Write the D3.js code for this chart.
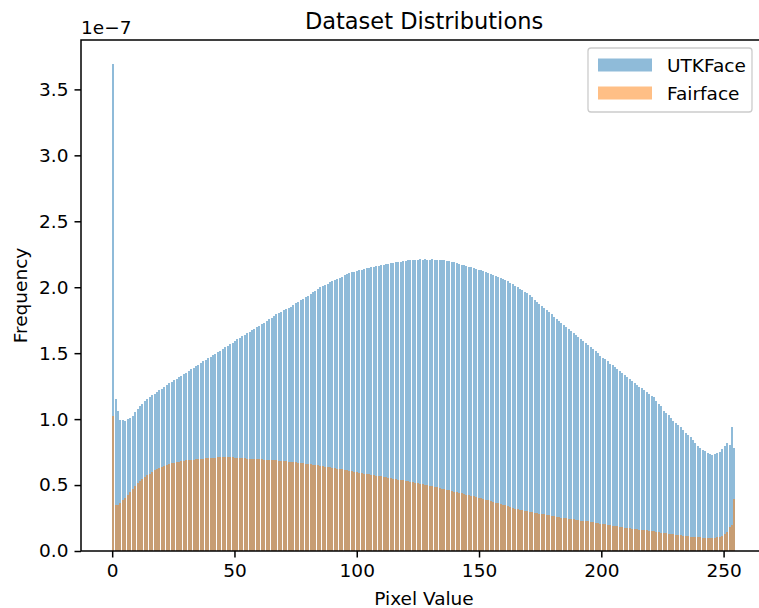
<!DOCTYPE html>
<html>
<head>
<meta charset="utf-8">
<script src="https://cdn.jsdelivr.net/npm/d3@7"></script>
<style>
  html, body { margin: 0; padding: 0; background: #ffffff; }
  svg { display: block; font-family: "DejaVu Sans", sans-serif; }
</style>
</head>
<body>
<svg id="chart" width="759" height="608"></svg>
<script>
// ---- data (units of 1e-7) ----
const seriesNames = ["UTKFace", "Fairface"];
const binCount = 256;
const binRange = [0, 255];
const xTicks = [0, 50, 100, 150, 200, 250];
const yTicks = [0.0, 0.5, 1.0, 1.5, 2.0, 2.5, 3.0, 3.5];
const yTickLabels = ["0.0", "0.5", "1.0", "1.5", "2.0", "2.5", "3.0", "3.5"];

const utkface = [
3.69,1.154,1.063,0.995,0.995,0.987,1.002,1.012,1.025,1.055,
1.078,1.10,1.118,1.134,1.149,1.164,1.18,1.193,1.205,1.22,
1.232,1.246,1.258,1.272,1.284,1.298,1.305,1.318,1.33,1.34,
1.353,1.365,1.378,1.39,1.40,1.413,1.425,1.438,1.45,1.463,
1.472,1.485,1.497,1.51,1.52,1.532,1.545,1.556,1.568,1.58,
1.592,1.604,1.615,1.627,1.638,1.65,1.662,1.672,1.685,1.697,
1.708,1.72,1.732,1.745,1.758,1.77,1.784,1.795,1.805,1.815,
1.826,1.838,1.846,1.853,1.866,1.878,1.89,1.902,1.913,1.925,
1.937,1.95,1.962,1.975,1.988,2.0,2.01,2.018,2.027,2.037,
2.045,2.055,2.064,2.072,2.08,2.09,2.097,2.105,2.112,2.118,
2.123,2.128,2.133,2.137,2.142,2.146,2.151,2.155,2.16,2.163,
2.167,2.171,2.174,2.177,2.181,2.184,2.188,2.191,2.195,2.198,
2.202,2.205,2.208,2.21,2.208,2.21,2.212,2.21,2.211,2.21,
2.21,2.211,2.21,2.209,2.21,2.208,2.203,2.199,2.197,2.193,
2.19,2.186,2.178,2.172,2.168,2.16,2.154,2.15,2.145,2.14,
2.133,2.127,2.12,2.113,2.106,2.098,2.092,2.085,2.077,2.07,
2.063,2.053,2.044,2.034,2.023,2.012,2.0,1.99,1.977,1.965,
1.953,1.94,1.923,1.906,1.89,1.874,1.858,1.842,1.826,1.81,
1.795,1.778,1.762,1.747,1.731,1.715,1.7,1.686,1.67,1.654,
1.64,1.625,1.61,1.594,1.58,1.565,1.55,1.535,1.52,1.5,
1.481,1.466,1.452,1.437,1.421,1.407,1.393,1.378,1.362,1.348,
1.333,1.318,1.303,1.288,1.273,1.26,1.247,1.233,1.218,1.204,
1.19,1.178,1.165,1.134,1.116,1.096,1.063,1.045,1.033,1.007,
0.987,0.969,0.957,0.939,0.919,0.896,0.881,0.863,0.843,0.82,
0.797,0.78,0.767,0.759,0.744,0.737,0.729,0.737,0.746,0.754,
0.774,0.797,0.82,0.805,0.942,0.782
];

const fairface = [
1.02,0.349,0.349,0.362,0.387,0.405,0.425,0.45,0.471,0.494,
0.514,0.532,0.547,0.562,0.575,0.587,0.6,0.613,0.623,0.633,
0.64,0.648,0.655,0.661,0.666,0.67,0.673,0.677,0.681,0.685,
0.689,0.69,0.692,0.693,0.695,0.697,0.699,0.7,0.702,0.704,
0.706,0.707,0.708,0.709,0.709,0.71,0.71,0.709,0.709,0.709,
0.708,0.708,0.707,0.705,0.703,0.7,0.699,0.698,0.697,0.696,
0.695,0.694,0.693,0.692,0.691,0.69,0.689,0.687,0.685,0.683,
0.682,0.68,0.678,0.676,0.674,0.672,0.67,0.668,0.665,0.663,
0.66,0.657,0.654,0.651,0.649,0.646,0.643,0.64,0.637,0.634,
0.631,0.628,0.625,0.623,0.62,0.616,0.612,0.609,0.605,0.601,
0.597,0.593,0.59,0.587,0.584,0.581,0.578,0.575,0.572,0.568,
0.565,0.561,0.558,0.555,0.551,0.548,0.545,0.541,0.538,0.535,
0.531,0.528,0.524,0.52,0.517,0.514,0.51,0.506,0.502,0.498,
0.494,0.49,0.486,0.482,0.477,0.473,0.469,0.465,0.46,0.456,
0.451,0.447,0.442,0.438,0.433,0.428,0.424,0.419,0.414,0.41,
0.405,0.4,0.395,0.39,0.385,0.379,0.373,0.367,0.362,0.356,
0.351,0.345,0.339,0.333,0.328,0.322,0.316,0.313,0.309,0.305,
0.301,0.298,0.294,0.29,0.287,0.284,0.28,0.277,0.273,0.27,
0.266,0.263,0.26,0.257,0.254,0.251,0.248,0.245,0.242,0.239,
0.236,0.234,0.231,0.229,0.227,0.224,0.221,0.218,0.215,0.212,
0.208,0.205,0.202,0.199,0.196,0.192,0.189,0.186,0.183,0.18,
0.178,0.175,0.172,0.17,0.167,0.165,0.162,0.16,0.158,0.156,
0.154,0.152,0.149,0.146,0.143,0.14,0.137,0.134,0.131,0.128,
0.126,0.123,0.121,0.118,0.116,0.113,0.111,0.109,0.107,0.106,
0.104,0.103,0.102,0.101,0.101,0.1,0.101,0.102,0.104,0.108,
0.115,0.13,0.146,0.18,0.195,0.397
];

const seriesColors = ["#1f77b4", "#ff7f0e"];

// ---- layout ----
const svg = d3.select("#chart");
const plot = { left: 81, top: 40, right: 767, bottom: 551 };
const fs = 18.5;

const binW = (binRange[1] - binRange[0]) / binCount;
const xPad = (binRange[1] - binRange[0]) * 0.05;
const x = d3.scaleLinear().domain([binRange[0] - xPad, binRange[1] + xPad]).range([plot.left, plot.right]);
const yMax = d3.max(utkface.concat(fairface)) * 1.05;
const y = d3.scaleLinear().domain([0, yMax]).range([plot.bottom, plot.top]);

svg.append("rect").attr("x", 0).attr("y", 0).attr("width", 759).attr("height", 608).attr("fill", "#fff");

svg.append("defs").append("clipPath").attr("id", "clip")
  .append("rect").attr("x", plot.left).attr("y", plot.top)
  .attr("width", plot.right - plot.left).attr("height", plot.bottom - plot.top);

const barsG = svg.append("g").attr("clip-path", "url(#clip)");
[utkface, fairface].forEach((vals, si) => {
  barsG.append("g")
    .attr("fill", seriesColors[si])
    .attr("fill-opacity", 0.5)
    .attr("shape-rendering", "crispEdges")
    .selectAll("rect").data(vals).join("rect")
    .attr("x", (d, i) => Math.round(x(binRange[0] + i * binW)))
    .attr("width", (d, i) => Math.max(1, Math.round(x(binRange[0] + (i + 1) * binW) - x(binRange[0] + i * binW) - 0.45)))
    .attr("y", d => y(d))
    .attr("height", d => y(0) - y(d));
});

// axes
const xAxis = d3.axisBottom(x).tickValues(xTicks).tickFormat(d3.format("d")).tickSize(6.5).tickPadding(6);
const gx = svg.append("g").attr("transform", `translate(0,${plot.bottom})`).call(xAxis);
gx.select(".domain").remove();
gx.selectAll(".tick line").attr("stroke", "#000").attr("stroke-width", 1.5);
gx.selectAll(".tick text").attr("font-size", fs).attr("font-family", "DejaVu Sans").attr("fill", "#000");

const yAxis = d3.axisLeft(y).tickValues(yTicks).tickFormat((d, i) => yTickLabels[i]).tickSize(6.5).tickPadding(6);
const gy = svg.append("g").attr("transform", `translate(${plot.left},0)`).call(yAxis);
gy.select(".domain").remove();
gy.selectAll(".tick line").attr("stroke", "#000").attr("stroke-width", 1.5);
gy.selectAll(".tick text").attr("font-size", fs).attr("font-family", "DejaVu Sans").attr("fill", "#000");

// spines
svg.append("rect")
  .attr("x", plot.left).attr("y", plot.top)
  .attr("width", plot.right - plot.left).attr("height", plot.bottom - plot.top)
  .attr("fill", "none").attr("stroke", "#000").attr("stroke-width", 1.5);

// texts
svg.append("text").attr("x", (plot.left + plot.right) / 2).attr("y", 29)
  .attr("text-anchor", "middle").attr("font-size", 22.5).text("Dataset Distributions");
svg.append("text").attr("x", plot.left).attr("y", 34)
  .attr("font-size", fs).text("1e\u22127");
svg.append("text").attr("x", (plot.left + plot.right) / 2).attr("y", 605)
  .attr("text-anchor", "middle").attr("font-size", fs).text("Pixel Value");
svg.append("text").attr("transform", `translate(27,${(plot.top + plot.bottom) / 2}) rotate(-90)`)
  .attr("text-anchor", "middle").attr("font-size", fs).text("Frequency");

// legend
const lg = svg.append("g");
const lgBox = { x: 588, y: 48, w: 164, h: 64 };
lg.append("rect").attr("x", lgBox.x).attr("y", lgBox.y).attr("width", lgBox.w).attr("height", lgBox.h)
  .attr("rx", 3).attr("fill", "#fff").attr("fill-opacity", 0.8).attr("stroke", "#cccccc").attr("stroke-width", 1.3);
seriesNames.forEach((name, i) => {
  const cy = lgBox.y + 17 + i * 28;
  lg.append("rect").attr("x", lgBox.x + 10).attr("y", cy - 6.5).attr("width", 54).attr("height", 13)
    .attr("fill", seriesColors[i]).attr("fill-opacity", 0.5);
  lg.append("text").attr("x", lgBox.x + 79).attr("y", cy + 6.5).attr("font-size", fs).text(name);
});
</script>
</body>
</html>
